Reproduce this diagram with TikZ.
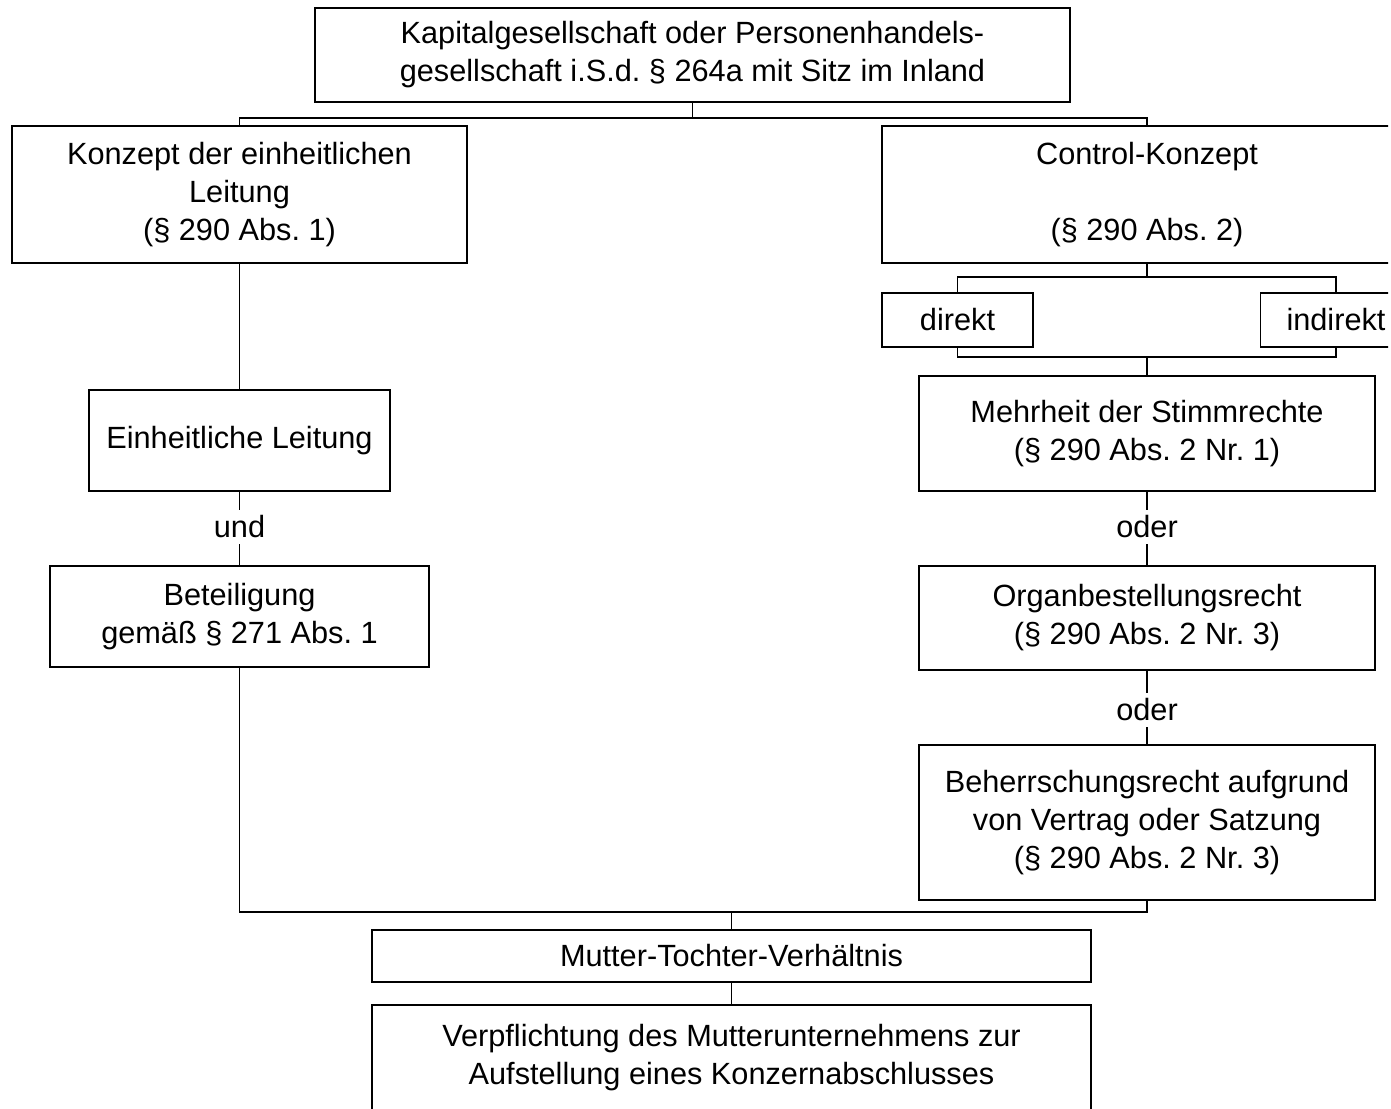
\documentclass[tikz,border=0pt]{standalone}
\usepackage{fontspec}
\setmainfont{Liberation Sans}

\begin{document}
\begin{tikzpicture}[x=1pt, y=-1pt,
    box/.style={draw, line width=1.5pt, align=center, inner sep=0pt,
                font=\fontsize{30.7}{38}\selectfont\frenchspacing},
    word/.style={inner sep=0pt, minimum height=34pt,
                 font=\fontsize{30.7}{38}\selectfont},
    link/.style={line width=1.5pt}]

    % Define page size
    \useasboundingbox (0,0) rectangle (1391,1108);
    \clip (0,0) rectangle (1388,1108);

    % Draw top box
    \node[box, minimum width=755pt, minimum height=94pt] (firma) at (692.5,55)
        {Kapitalgesellschaft oder Personenhandels-\\gesellschaft i.S.d. § 264a mit Sitz im Inland};

    % Draw the two concepts
    \node[box, minimum width=455pt, minimum height=137pt] (leitung) at (239.5,194.5)
        {Konzept der einheitlichen\\Leitung\\(§ 290 Abs. 1)};
    \node[box, minimum width=530pt, minimum height=137pt] (control) at (1147,194.5)
        {Control-Konzept\\[38pt](§ 290 Abs. 2)};

    % Left column
    \node[box, minimum width=301pt, minimum height=101pt] (einheit) at (239.5,440.5)
        {Einheitliche Leitung};
    \node[word] (und) at (239.5,527) {und};
    \node[box, minimum width=379pt, minimum height=101pt] (beteil) at (239.5,616.5)
        {Beteiligung\\gemäß § 271 Abs. 1};

    % Right column
    \node[box, minimum width=151pt, minimum height=54pt] (direkt) at (957.5,320) {direkt};
    \node[box, minimum width=151pt, minimum height=54pt] (indirekt) at (1336,320) {indirekt};
    \node[box, minimum width=456pt, minimum height=115pt] (mehrheit) at (1147,433.5)
        {Mehrheit der Stimmrechte\\(§ 290 Abs. 2 Nr. 1)};
    \node[word] (oderA) at (1147,527) {oder};
    \node[box, minimum width=456pt, minimum height=104pt] (organ) at (1147,618)
        {Organbestellungsrecht\\(§ 290 Abs. 2 Nr. 3)};
    \node[word] (oderB) at (1147,710) {oder};
    \node[box, minimum width=456pt, minimum height=155pt] (beherr) at (1147,822.5)
        {Beherrschungsrecht aufgrund\\von Vertrag oder Satzung\\(§ 290 Abs. 2 Nr. 3)};

    % Bottom boxes
    \node[box, minimum width=719pt, minimum height=52pt] (mutter) at (731.5,956)
        {Mutter-Tochter-Verhältnis};
    \node[box, minimum width=719pt, minimum height=106pt] (pflicht) at (731.5,1058)
        {Verpflichtung des Mutterunternehmens zur\\Aufstellung eines Konzernabschlusses};

    % Junction points
    \coordinate (splitTop) at (692.5,118);
    \coordinate (splitCtl) at (1147,277);
    \coordinate (mergeCtl) at (1147,357);
    \coordinate (mergeAll) at (731.5,912);

    % Draw connectors
    \draw[link] (firma.south) -- (splitTop);
    \draw[link] (leitung.north) |- (splitTop) -| (control.north);
    \draw[link] (control.south) -- (splitCtl);
    \draw[link] (direkt.north) |- (splitCtl) -| (indirekt.north);
    \draw[link] (direkt.south) |- (mergeCtl) -| (indirekt.south);
    \draw[link] (mergeCtl) -- (mehrheit.north);
    \draw[link] (leitung.south) -- (einheit.north);
    \draw[link] (einheit.south) -- (und.north);
    \draw[link] (und.south) -- (beteil.north);
    \draw[link] (mehrheit.south) -- (oderA.north);
    \draw[link] (oderA.south) -- (organ.north);
    \draw[link] (organ.south) -- (oderB.north);
    \draw[link] (oderB.south) -- (beherr.north);
    \draw[link] (beteil.south) |- (mergeAll) -| (beherr.south);
    \draw[link] (mergeAll) -- (mutter.north);
    \draw[link] (mutter.south) -- (pflicht.north);

\end{tikzpicture}
\end{document}
